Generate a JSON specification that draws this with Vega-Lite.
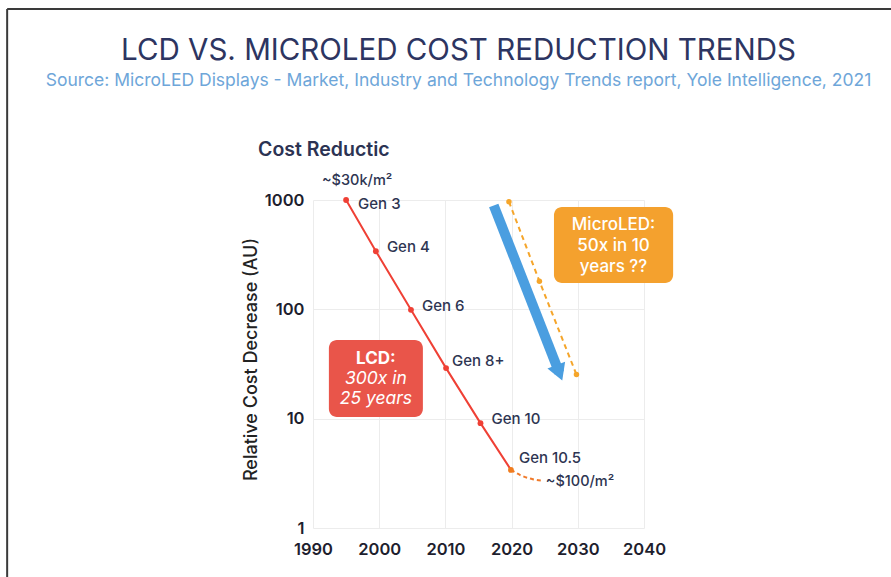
{
  "$schema": "https://vega.github.io/schema/vega-lite/v6.json",
  "width": 331,
  "height": 328,
  "autosize": {"type": "none"},
  "padding": {"left": 313, "top": 200, "right": 247, "bottom": 49},
  "background": "white",
  "title": {
    "text": "LCD VS. MICROLED COST REDUCTION TRENDS",
    "subtitle": "Source: MicroLED Displays - Market, Industry and Technology Trends report, Yole Intelligence, 2021",
    "anchor": "middle",
    "frame": "group",
    "dx": -20,
    "offset": -82,
    "font": "Inter",
    "fontSize": 29.5,
    "fontWeight": 400,
    "color": "#2d3561",
    "subtitleFont": "Inter",
    "subtitleFontSize": 17.5,
    "subtitleColor": "#6ea6d9",
    "subtitlePadding": 5
  },
  "config": {"view": {"stroke": null}},
  "datasets": {
    "frame": [
      {"year": 1943.8, "value": 55800, "year2": 2080, "value2": 55800},
      {"year": 1943.8, "value": 55800, "year2": 1943.8, "value2": 0.3}
    ],
    "lcd": [
      {"year": 1995, "value": 1000, "gen": "Gen 3", "note": "~$30k/m²"},
      {"year": 1999.5, "value": 340, "gen": "Gen 4"},
      {"year": 2004.8, "value": 99, "gen": "Gen 6"},
      {"year": 2010.1, "value": 29, "gen": "Gen 8+"},
      {"year": 2015.3, "value": 9.1, "gen": "Gen 10"},
      {"year": 2019.9, "value": 3.4, "gen": "Gen 10.5"}
    ],
    "lcdForecast": [
      {"year": 2019.9, "value": 3.4},
      {"year": 2021.3, "value": 3.05},
      {"year": 2023.2, "value": 2.79},
      {"year": 2024.7, "value": 2.7, "note": "~$100/m²"}
    ],
    "micro": [
      {"year": 2019.6, "value": 965},
      {"year": 2024.2, "value": 181},
      {"year": 2029.8, "value": 25.3}
    ],
    "arrow": [
      {"year": 2017.3, "value": 891, "year2": 2027.2, "value2": 26.3}
    ],
    "boxes": [
      {"box": "LCD", "year": 1992.4, "year2": 2006.6, "value": 52.4, "value2": 10.35},
      {"box": "MicroLED", "year": 2026.4, "year2": 2044.4, "value": 863, "value2": 174}
    ],
    "boxText": [
      {"box": "LCD", "part": "head", "text": "LCD:", "year": 1999.5, "value": 35.1},
      {"box": "LCD", "part": "body", "text": "300x in", "year": 1999.5, "value": 23.1},
      {"box": "LCD", "part": "body", "text": "25 years", "year": 1999.5, "value": 15.2},
      {"box": "MicroLED", "part": "body", "text": "MicroLED:", "year": 2035.4, "value": 591},
      {"box": "MicroLED", "part": "body", "text": "50x in 10", "year": 2035.4, "value": 380},
      {"box": "MicroLED", "part": "body", "text": "years ??", "year": 2035.4, "value": 244}
    ],
    "heading": [
      {"text": "Cost Reductic", "year": 1981.7, "value": 2866}
    ]
  },
  "encoding": {
    "x": {
      "field": "year",
      "type": "quantitative",
      "scale": {"domain": [1990, 2040], "nice": false, "zero": false},
      "axis": {
        "title": null,
        "values": [1990, 2000, 2010, 2020, 2030, 2040],
        "format": "d",
        "grid": true,
        "gridColor": "#ececec",
        "domain": false,
        "ticks": false,
        "labelFlush": false,
        "labelFont": "Inter",
        "labelFontSize": 16.5,
        "labelFontWeight": 600,
        "labelColor": "#1e1e2e",
        "labelPadding": 13
      }
    },
    "y": {
      "field": "value",
      "type": "quantitative",
      "scale": {"type": "log", "domain": [1, 1000], "nice": false},
      "axis": {
        "title": "Relative Cost Decrease (AU)",
        "values": [1, 10, 100, 1000],
        "format": "d",
        "grid": true,
        "gridColor": "#ececec",
        "domain": false,
        "ticks": false,
        "labelFlush": false,
        "labelFont": "Inter",
        "labelFontSize": 16.5,
        "labelFontWeight": 600,
        "labelColor": "#1e1e2e",
        "labelPadding": 9,
        "titleFont": "Inter",
        "titleFontSize": 18,
        "titleFontWeight": 500,
        "titleColor": "#222222",
        "titleAngle": 270,
        "titleAlign": "center",
        "titleBaseline": "middle",
        "titleX": -62,
        "titleY": 159
      }
    }
  },
  "layer": [
    {
      "data": {"name": "frame"},
      "mark": {"type": "rule", "color": "#3a3a3a", "strokeWidth": 2},
      "encoding": {"x2": {"field": "year2"}, "y2": {"field": "value2"}}
    },
    {
      "data": {"name": "boxes"},
      "mark": {"type": "rect", "cornerRadius": 8},
      "encoding": {
        "x2": {"field": "year2"},
        "y2": {"field": "value2"},
        "color": {"field": "box", "type": "nominal", "scale": {"domain": ["LCD", "MicroLED"], "range": ["#e9554a", "#f4a12e"]}, "legend": null}
      }
    },
    {
      "data": {"name": "boxText"},
      "transform": [{"filter": "datum.part === 'head'"}],
      "mark": {"type": "text", "font": "Inter", "fontSize": 17, "fontWeight": 700, "color": "white", "align": "center", "baseline": "middle"},
      "encoding": {"text": {"field": "text"}}
    },
    {
      "data": {"name": "boxText"},
      "transform": [{"filter": "datum.part === 'body' && datum.box === 'LCD'"}],
      "mark": {"type": "text", "font": "Inter", "fontSize": 17.5, "fontStyle": "italic", "fontWeight": 400, "color": "white", "align": "center", "baseline": "middle"},
      "encoding": {"text": {"field": "text"}}
    },
    {
      "data": {"name": "boxText"},
      "transform": [{"filter": "datum.part === 'body' && datum.box === 'MicroLED'"}],
      "mark": {"type": "text", "font": "Inter", "fontSize": 17, "fontWeight": 500, "color": "white", "align": "center", "baseline": "middle"},
      "encoding": {"text": {"field": "text"}}
    },
    {
      "data": {"name": "arrow"},
      "mark": {"type": "rule", "color": "#4a9ee0", "strokeWidth": 10, "strokeCap": "butt"},
      "encoding": {"x2": {"field": "year2"}, "y2": {"field": "value2"}}
    },
    {
      "data": {"name": "arrow"},
      "mark": {"type": "point", "shape": "triangle-up", "filled": true, "size": 360, "angle": 158.6, "color": "#4a9ee0", "opacity": 1},
      "encoding": {"x": {"field": "year2", "type": "quantitative"}, "y": {"field": "value2", "type": "quantitative"}}
    },
    {
      "data": {"name": "micro"},
      "mark": {"type": "line", "color": "#f5a52a", "strokeWidth": 2, "strokeDash": [5, 4]}
    },
    {
      "data": {"name": "micro"},
      "mark": {"type": "point", "filled": true, "size": 30, "color": "#f5a52a", "opacity": 1}
    },
    {
      "data": {"name": "lcd"},
      "mark": {"type": "line", "color": "#ef4035", "strokeWidth": 2}
    },
    {
      "data": {"name": "lcdForecast"},
      "mark": {"type": "line", "color": "#f07a2a", "strokeWidth": 2, "strokeDash": [4, 3], "interpolate": "monotone"}
    },
    {
      "data": {"name": "lcd"},
      "mark": {"type": "point", "filled": true, "size": 34, "opacity": 1},
      "encoding": {
        "color": {"condition": {"test": "datum.gen === 'Gen 10.5'", "value": "#f07c1e"}, "value": "#ef4035"}
      }
    },
    {
      "data": {"name": "lcd"},
      "transform": [{"filter": "indexof(['Gen 4','Gen 6','Gen 10'], datum.gen) >= 0"}],
      "mark": {"type": "text", "font": "Inter", "fontSize": 15, "fontWeight": 500, "color": "#2e3552", "align": "left", "baseline": "middle", "dx": 11, "dy": -4},
      "encoding": {"text": {"field": "gen"}}
    },
    {
      "data": {"name": "lcd"},
      "transform": [{"filter": "datum.gen === 'Gen 8+'"}],
      "mark": {"type": "text", "font": "Inter", "fontSize": 15, "fontWeight": 500, "color": "#2e3552", "align": "left", "baseline": "middle", "dx": 6, "dy": -7},
      "encoding": {"text": {"field": "gen"}}
    },
    {
      "data": {"name": "lcd"},
      "transform": [{"filter": "datum.gen === 'Gen 3'"}],
      "mark": {"type": "text", "font": "Inter", "fontSize": 15, "fontWeight": 500, "color": "#2e3552", "align": "left", "baseline": "middle", "dx": 12, "dy": 4},
      "encoding": {"text": {"field": "gen"}}
    },
    {
      "data": {"name": "lcd"},
      "transform": [{"filter": "datum.gen === 'Gen 10.5'"}],
      "mark": {"type": "text", "font": "Inter", "fontSize": 15, "fontWeight": 500, "color": "#2e3552", "align": "left", "baseline": "middle", "dx": 8, "dy": -12},
      "encoding": {"text": {"field": "gen"}}
    },
    {
      "data": {"name": "lcd"},
      "transform": [{"filter": "isValid(datum.note)"}],
      "mark": {"type": "text", "font": "Inter", "fontSize": 14.5, "fontWeight": 500, "color": "#2e3552", "align": "center", "baseline": "middle", "dx": 11, "dy": -19},
      "encoding": {"text": {"field": "note"}}
    },
    {
      "data": {"name": "lcdForecast"},
      "transform": [{"filter": "isValid(datum.note)"}],
      "mark": {"type": "text", "font": "Inter", "fontSize": 14.5, "fontWeight": 500, "color": "#2e3552", "align": "left", "baseline": "middle", "dx": 3, "dy": 1},
      "encoding": {"text": {"field": "note"}}
    },
    {
      "data": {"name": "heading"},
      "mark": {"type": "text", "font": "Inter", "fontSize": 19.5, "fontWeight": 600, "color": "#2c3353", "align": "left", "baseline": "middle"},
      "encoding": {"text": {"field": "text"}}
    }
  ]
}
